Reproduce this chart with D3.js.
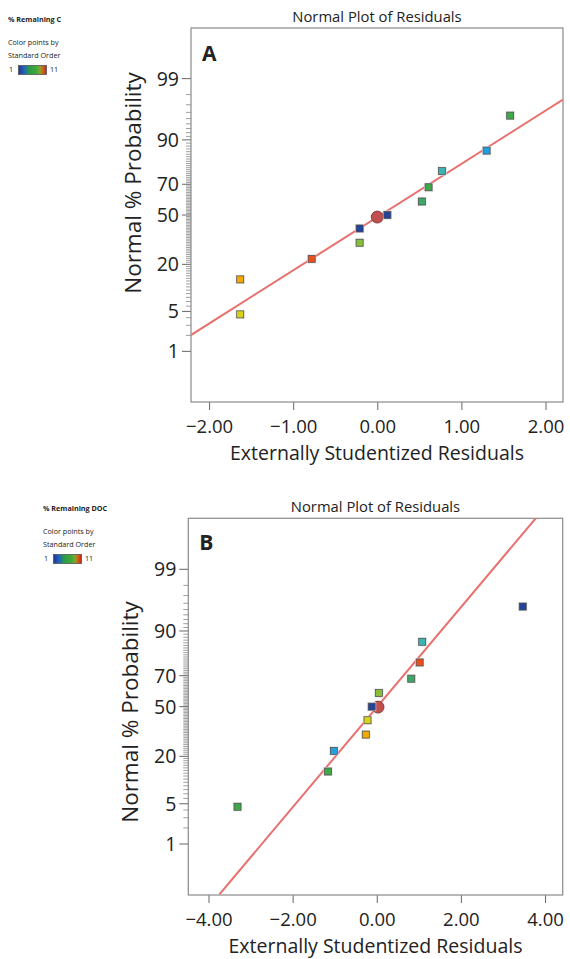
<!DOCTYPE html>
<html>
<head>
<meta charset="utf-8">
<script src="https://cdn.jsdelivr.net/npm/d3@7"></script>
<style>
  html, body { margin: 0; padding: 0; background: #fff; }
  svg { display: block; }
  text { font-family: "Open Sans", "Noto Sans", sans-serif; fill: #222; }
</style>
</head>
<body>
<svg id="chart" width="570" height="959"></svg>
<script>
// ---------------- DATA ----------------
const probTickLabels = [1, 5, 20, 50, 70, 90, 99];
const probMinorTicks = d3.range(1, 100);

// Panel A: % Remaining C
const residualsA   = [-1.63, -1.63, -0.78, -0.21, -0.21, 0.12, 0.53, 0.61, 0.77, 1.30, 1.58];
const probsA       = [4.5, 13.6, 22.7, 31.8, 40.9, 50.0, 59.1, 68.2, 77.3, 86.4, 95.5];
const colorsA      = ["#d8d41c", "#f2a900", "#e9501e", "#86c03a", "#24449c", "#24449c", "#3fa868", "#3ea848", "#3cb4b4", "#229fdc", "#3fa848"];
const centerA      = {x: 0.0, p: 48.6};
const fitLineA_x   = [-2.215, 2.208];
const fitLineA_p   = [2.03, 97.55];
const xTicksA      = [-2, -1, 0, 1, 2];

// Panel B: % Remaining DOC
const residualsB   = [-3.31, -1.16, -1.02, -0.26, -0.22, -0.12, 0.05, 0.82, 1.02, 1.08, 3.47];
const probsB       = [4.5, 13.6, 22.7, 31.8, 40.9, 50.0, 59.1, 68.2, 77.3, 86.4, 95.5];
const colorsB      = ["#3fa848", "#3fa848", "#229fdc", "#f2a900", "#d8d41c", "#24449c", "#86c03a", "#3fa868", "#e9501e", "#3cb4b4", "#24449c"];
const centerB      = {x: 0.03, p: 49.7};
const fitLineB_x   = [-3.74, 3.78];
const fitLineB_p   = [0.074, 99.929];
const xTicksB      = [-4, -2, 0, 2, 4];

// ---------------- helpers ----------------
function probit(p) { // inverse standard normal CDF, p in (0,1)
  const a = [-3.969683028665376e+01, 2.209460984245205e+02, -2.759285104469687e+02, 1.383577518672690e+02, -3.066479806614716e+01, 2.506628277459239e+00];
  const b = [-5.447609879822406e+01, 1.615858368580409e+02, -1.556989798598866e+02, 6.680131188771972e+01, -1.328068155288572e+01];
  const c = [-7.784894002430293e-03, -3.223964580411365e-01, -2.400758277161838e+00, -2.549732539343734e+00, 4.374664141464968e+00, 2.938163982698783e+00];
  const d = [7.784695709041462e-03, 3.224671290700398e-01, 2.445134137142996e+00, 3.754408661907416e+00];
  const pl = 0.02425, ph = 1 - pl;
  let q, r;
  if (p < pl) { q = Math.sqrt(-2 * Math.log(p)); return (((((c[0]*q+c[1])*q+c[2])*q+c[3])*q+c[4])*q+c[5]) / ((((d[0]*q+d[1])*q+d[2])*q+d[3])*q+1); }
  if (p <= ph) { q = p - 0.5; r = q*q; return (((((a[0]*r+a[1])*r+a[2])*r+a[3])*r+a[4])*r+a[5])*q / (((((b[0]*r+b[1])*r+b[2])*r+b[3])*r+b[4])*r+1); }
  q = Math.sqrt(-2 * Math.log(1 - p));
  return -(((((c[0]*q+c[1])*q+c[2])*q+c[3])*q+c[4])*q+c[5]) / ((((d[0]*q+d[1])*q+d[2])*q+d[3])*q+1);
}

const svg = d3.select("#chart");
const defs = svg.append("defs");
const grad = defs.append("linearGradient").attr("id", "stdorder").attr("x1", "0%").attr("x2", "100%");
[["0%", "#23308f"], ["18%", "#1e5fc0"], ["38%", "#2a9a48"], ["62%", "#3aa83c"], ["76%", "#7fa82a"], ["88%", "#d0601a"], ["100%", "#c41c1c"]]
  .forEach(s => grad.append("stop").attr("offset", s[0]).attr("stop-color", s[1]));

function panel(cfg) {
  const g = svg.append("g");
  const x = d3.scaleLinear().domain(cfg.xDomain).range([cfg.left, cfg.right]);
  const z = d3.scaleLinear().domain([-3.19, 3.19]).range([cfg.bottom, cfg.top]);
  const y = p => z(probit(p / 100));

  // legend
  const L = cfg.legend;
  g.append("text").attr("x", L.x).attr("y", L.y).attr("font-size", 7.2).attr("font-weight", "bold").text(L.title);
  g.append("text").attr("x", L.x).attr("y", L.y + 23).attr("font-size", 7.2).attr("fill", "#333").text("Color points by");
  g.append("text").attr("x", L.x).attr("y", L.y + 36).attr("font-size", 7.2).attr("fill", "#333").text("Standard Order");
  g.append("text").attr("x", L.x + 1).attr("y", L.y + 50).attr("font-size", 7.2).attr("fill", "#333").text("1");
  g.append("rect").attr("x", L.x + 10.5).attr("y", L.y + 43.5).attr("width", 28).attr("height", 9)
    .attr("fill", "url(#stdorder)").attr("stroke", "#555").attr("stroke-width", 0.8);
  g.append("text").attr("x", L.x + 42).attr("y", L.y + 50).attr("font-size", 7.2).attr("fill", "#333").text("11");

  // title
  g.append("text").attr("x", (cfg.left + cfg.right) / 2).attr("y", cfg.top - 6)
    .attr("text-anchor", "middle").attr("font-size", 14.8).attr("fill", "#222").text("Normal Plot of Residuals");

  // clip
  const clipId = "clip" + cfg.id;
  defs.append("clipPath").attr("id", clipId).append("rect")
    .attr("x", cfg.left).attr("y", cfg.top).attr("width", cfg.right - cfg.left).attr("height", cfg.bottom - cfg.top);

  // y ticks
  const minor = probMinorTicks.filter(p => !probTickLabels.includes(p));
  g.append("g").selectAll("line").data(minor).join("line")
    .attr("x1", cfg.left - 5).attr("x2", cfg.left).attr("y1", d => y(d)).attr("y2", d => y(d))
    .attr("stroke", "#888").attr("stroke-width", 0.8);
  g.append("g").selectAll("line").data(probTickLabels).join("line")
    .attr("x1", cfg.left - 9).attr("x2", cfg.left).attr("y1", d => y(d)).attr("y2", d => y(d))
    .attr("stroke", "#666").attr("stroke-width", 1);
  g.append("g").selectAll("text").data(probTickLabels).join("text")
    .attr("x", cfg.left - 12).attr("y", d => y(d)).attr("dy", "0.36em")
    .attr("text-anchor", "end").attr("font-size", 19.5).text(d => d);

  // x axis
  const xAxis = d3.axisBottom(x).tickValues(cfg.xTicks).tickFormat(d3.format(".2f")).tickSize(8).tickPadding(10);
  const ax = g.append("g").attr("transform", `translate(0,${cfg.bottom})`).call(xAxis);
  ax.select(".domain").remove();
  ax.selectAll(".tick line").attr("stroke", "#666");
  ax.selectAll(".tick text").attr("font-size", 18.5).attr("fill", "#222")
    .attr("font-family", '"Open Sans", "Noto Sans", sans-serif');

  // frame
  g.append("rect").attr("x", cfg.left).attr("y", cfg.top).attr("width", cfg.right - cfg.left).attr("height", cfg.bottom - cfg.top)
    .attr("fill", "none").attr("stroke", "#8a8a8a").attr("stroke-width", 1.2);

  // axis titles
  g.append("text").attr("x", (cfg.left + cfg.right) / 2).attr("y", cfg.bottom + 58)
    .attr("text-anchor", "middle").attr("font-size", 19.5).text("Externally Studentized Residuals");
  g.append("text").attr("transform", `translate(${cfg.left - 58},${cfg.yLabelY}) rotate(-90)`)
    .attr("text-anchor", "middle").attr("dy", "0.35em").attr("font-size", 22.5).text("Normal % Probability");

  // panel letter
  g.append("text").attr("x", cfg.left + 11).attr("y", cfg.top + cfg.letterDy)
    .attr("font-size", 21).attr("font-weight", "bold").attr("font-family", '"Liberation Sans", Arial, sans-serif')
    .attr("fill", "#222").text(cfg.letter);

  // fit line
  const pts = cfg.lineX.map((v, i) => [x(v), y(cfg.lineP[i])]);
  g.append("path").attr("clip-path", `url(#${clipId})`).attr("d", d3.line()(pts))
    .attr("stroke", "#e8706e").attr("stroke-width", 2).attr("fill", "none");

  // center circle
  g.append("circle").attr("cx", x(cfg.center.x)).attr("cy", y(cfg.center.p)).attr("r", 6)
    .attr("fill", "#c0504d").attr("stroke", "#6e2a28").attr("stroke-width", 0.8);

  // points
  const data = cfg.res.map((r, i) => ({r, p: cfg.probs[i], c: cfg.colors[i]}));
  const s = 7;
  g.append("g").selectAll("rect.halo").data(data).join("rect").attr("class", "halo")
    .attr("x", d => x(d.r) - s / 2 - 1).attr("y", d => y(d.p) - s / 2 - 1).attr("width", s + 2).attr("height", s + 2)
    .attr("fill", "#ddd");
  g.append("g").selectAll("rect.pt").data(data).join("rect").attr("class", "pt")
    .attr("x", d => x(d.r) - s / 2).attr("y", d => y(d.p) - s / 2).attr("width", s).attr("height", s)
    .attr("fill", d => d.c).attr("stroke", "#4a4a4a").attr("stroke-width", 0.7);
}

panel({
  id: "A", letter: "A", letterDy: 33, yLabelY: 183,
  left: 191, right: 563, top: 28, bottom: 402,
  xDomain: [-2.215, 2.208], xTicks: xTicksA,
  res: residualsA, probs: probsA, colors: colorsA, center: centerA,
  lineX: fitLineA_x, lineP: fitLineA_p,
  legend: {x: 8, y: 22, title: "% Remaining C"}
});

panel({
  id: "B", letter: "B", letterDy: 32, yLabelY: 712,
  left: 188.3, right: 562.7, top: 518.3, bottom: 895,
  xDomain: [-4.48, 4.42], xTicks: xTicksB,
  res: residualsB, probs: probsB, colors: colorsB, center: centerB,
  lineX: fitLineB_x, lineP: fitLineB_p,
  legend: {x: 43, y: 511, title: "% Remaining DOC"}
});
</script>
</body>
</html>
